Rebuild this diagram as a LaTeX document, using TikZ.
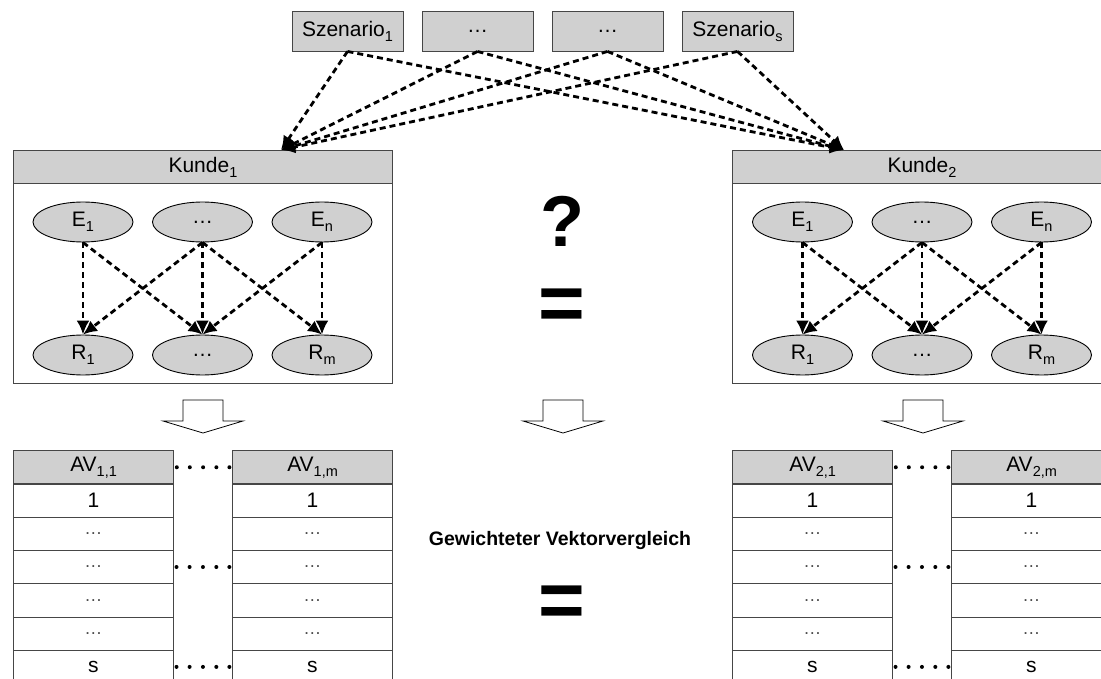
\documentclass[tikz,border=0pt]{standalone}
\usepackage{fontspec}
\setmainfont{Liberation Sans}
\usetikzlibrary{arrows.meta,shapes.geometric,calc}
\definecolor{boxgray}{RGB}{208,208,208}
\definecolor{edgegray}{RGB}{70,70,70}
\newcommand{\sbs}[1]{\raisebox{-5pt}{\fontsize{14.5}{14.5}\selectfont #1}}
\newcommand{\cdts}{\textcolor{black!70}{\fontsize{18}{18}\selectfont\dots}}
\begin{document}
\begin{tikzpicture}[x=1pt,y=-1pt,
  txt/.style={font=\fontsize{21}{23}\selectfont, text=black},
  scen/.style={txt, draw=edgegray, fill=boxgray, line width=0.9pt, minimum width=111pt, minimum height=40pt, inner sep=0pt},
  kbody/.style={draw=edgegray, fill=white, line width=0.9pt, minimum width=379pt, minimum height=233pt, inner sep=0pt, anchor=north west},
  khead/.style={txt, draw=edgegray, fill=boxgray, line width=0.9pt, minimum width=379pt, minimum height=33pt, inner sep=0pt, anchor=north west},
  ell/.style={txt, ellipse, draw=black, fill=boxgray, line width=0.9pt, minimum width=100pt, minimum height=40pt, inner sep=0pt},
  darr/.style={line width=2.8pt, dash pattern=on 6pt off 4pt, -{Latex[length=14pt,width=13pt]}},
  cell/.style={txt, draw=edgegray, line width=0.9pt, minimum width=160pt, minimum height=33.3pt, inner sep=0pt, anchor=north west},
  hcell/.style={cell, fill=boxgray, line width=1.2pt},
  blockarr/.style={draw=black, fill=white, line width=0.8pt},
  dotfill/.style={fill=black}
]
\useasboundingbox (0,0) rectangle (1101,679);

% scenarios
\node[scen] (s1) at (347.5,31) {Szenario\sbs{1}};
\node[scen] (s2) at (477.5,31) {\dots};
\node[scen] (s3) at (607.5,31) {\dots};
\node[scen] (s4) at (737.5,31) {Szenario\sbs{s}};

% Kunde boxes
\node[kbody] (k1) at (13,150) {};
\node[khead] (k1h) at (13,150) {Kunde\sbs{1}};
\node[kbody] (k2) at (732,150) {};
\node[khead] (k2h) at (732,150) {Kunde\sbs{2}};
\coordinate (t1) at (281,150);
\coordinate (t2) at (844,150);

\foreach \s in {s1,s2,s3,s4} {
  \draw[darr] (\s.south) -- (t1);
  \draw[darr] (\s.south) -- (t2);
}

% ellipses
\foreach \k/\dx in {a/0,b/719.5} {
  \node[ell] (\k e1) at (83+\dx,222) {E\sbs{1}};
  \node[ell] (\k e2) at (202.5+\dx,222) {\dots};
  \node[ell] (\k e3) at (322+\dx,222) {E\sbs{n}};
  \node[ell] (\k r1) at (83+\dx,355) {R\sbs{1}};
  \node[ell] (\k r2) at (202.5+\dx,355) {\dots};
  \node[ell] (\k r3) at (322+\dx,355) {R\sbs{m}};
  \draw[darr] (\k e1.south) -- (\k r1.north);
  \draw[darr] (\k e1.south) -- (\k r2.north);
  \draw[darr] (\k e2.south) -- (\k r1.north);
  \draw[darr] (\k e2.south) -- (\k r2.north);
  \draw[darr] (\k e2.south) -- (\k r3.north);
  \draw[darr] (\k e3.south) -- (\k r2.north);
  \draw[darr] (\k e3.south) -- (\k r3.north);
}

% block arrows
\foreach \cx in {203,563,923} {
  \draw[blockarr] (\cx-20,400) -- (\cx+20,400) -- (\cx+20,421) -- (\cx+40,421)
    -- (\cx,433) -- (\cx-40,421) -- (\cx-20,421) -- cycle;
}

% middle symbols
\node[font=\fontsize{72}{72}\selectfont\bfseries] (q) at (562,221) {?};
\node[font=\fontsize{80}{80}\selectfont\bfseries] (eq1) at (562,310) {=};
\node[font=\fontsize{19.5}{22}\selectfont\bfseries] (gv) at (560,540) {Gewichteter Vektorvergleich};
\node[font=\fontsize{80}{80}\selectfont\bfseries] (eq2) at (562,607) {=};

% tables
\foreach \t/\x/\lab in {a1/13/{AV\sbs{1,1}}, am/232/{AV\sbs{1,m}}, b1/732/{AV\sbs{2,1}}, bm/951/{AV\sbs{2,m}}} {
  \node[hcell] (\t h) at (\x,450) {\lab};
  \node[cell] (\t c1) at (\x,483.3) {1};
  \node[cell] (\t c2) at (\x,516.6) {\cdts};
  \node[cell] (\t c3) at (\x,549.9) {\cdts};
  \node[cell] (\t c4) at (\x,583.2) {\cdts};
  \node[cell] (\t c5) at (\x,616.5) {\cdts};
  \node[cell] (\t c6) at (\x,649.8) {s};
}

% dotted connectors between columns (five dots each)
\foreach \l/\r in {a1/am,b1/bm} {
  \foreach \row in {h,c3,c6} {
    \foreach \f in {0.045,0.27,0.5,0.73,0.955} {
      \fill[dotfill] ($(\l\row.east)!\f!(\r\row.west)$) circle (2pt);
    }
  }
}
\end{tikzpicture}
\end{document}
